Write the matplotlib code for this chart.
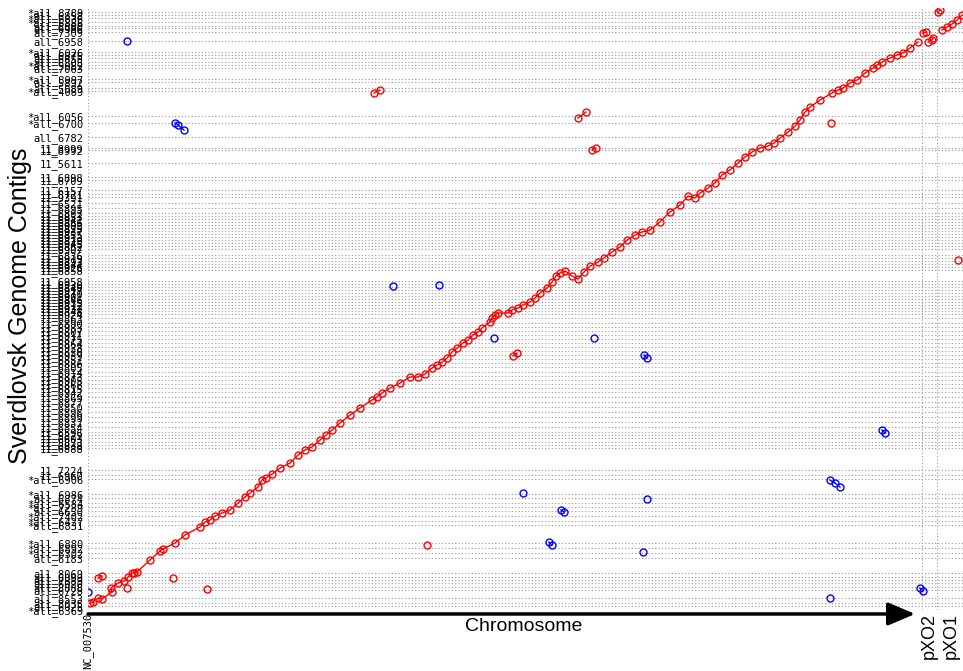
# -*- coding : utf-8 -*-
import matplotlib
matplotlib.use('Agg')
import numpy as np
import matplotlib.pyplot as plt

# 字体
plt.rcParams['font.family'] = ['Liberation Sans', 'DejaVu Sans']

# 参考序列 (kb)
REF_NAMES = ['NC_007530', 'pXO2', 'pXO1']
REF_LEN = [5228.663, 94.830, 181.677]

# Sverdlovsk contigs, bottom -> top (kb)
CONTIG_NAMES = [
    '*all_6369', 'all_6025', 'all_8035', 'all_8553', 'all_6728', 'all_8888', 'all_6020', 'all_7889',
    'all_6099', 'all_8069', 'all_6183', '*all_6302', '*all_6892', '*all_6880', '*all_6831', '*all_6427',
    '*all_7402', 'all_6650', '*all_7239', '*all_6584', 'all_6874', '*all_6986', '*all_6906', '11_6960',
    '11_7224', '11_6888', '11_6838', '11_5823', '11_6603', '11_5822', '11_6596', '11_6854',
    '11_6832', '11_6899', '11_6896', '11_6850', '11_6877', '11_6869', '11_6942', '11_6815',
    '11_6868', '11_6905', '11_6873', '11_6914', '11_6805', '11_6886', '11_6851', '11_6939',
    '11_6820', '11_6928', '11_6864', '11_6875', '11_6911', '11_6807', '11_6983', '11_6890',
    '11_6863', '11_6924', '11_6848', '11_6932', '11_6812', '11_6935', '11_6846', '11_6901',
    '11_6870', '11_6917', '11_6840', '11_6930', '11_6958', '11_6858', '11_6926', '11_6844',
    '11_6893', '11_6919', '11_6836', '11_6907', '11_6862', '11_6945', '11_6829', '11_6913',
    '11_6855', '11_6937', '11_6825', '11_6903', '11_6866', '11_6941', '11_6853', '11_6892',
    '11_6895', '11_6521', '11_9391', '11_8721', '11_6157', '11_6709', '11_6898', '11_5611',
    '11_8992', '11_8999', 'all_6782', '*all_6700', '*all_6056', '*all_4089', 'all_5089', 'all_5892',
    '*all_8997', 'all_7063', '*all_5082', 'all_6808', 'all_6855', 'all_6875', '*all_6026', 'all_6958',
    'all_7309', 'all_6986', 'all_6880', '*all_6886', '*all_6836', 'all_6858', '*all_8789',
]
CONTIG_LEN = [
    36, 27, 45, 72, 27, 36, 27, 27, 36, 135,
    45, 45, 45, 162, 36, 45, 45, 36, 36, 45,
    36, 135, 36, 45, 198, 27, 27, 36, 27, 27,
    45, 45, 45, 45, 45, 45, 45, 45, 36, 36,
    36, 36, 36, 45, 36, 36, 36, 36, 36, 36,
    36, 36, 36, 36, 36, 45, 36, 27, 27, 27,
    27, 27, 27, 27, 27, 27, 27, 27, 99, 27,
    27, 27, 27, 27, 54, 27, 27, 27, 27, 27,
    27, 27, 27, 27, 27, 27, 27, 45, 45, 54,
    27, 36, 90, 27, 126, 117, 18, 99, 126, 63,
    225, 27, 54, 27, 99, 27, 27, 36, 27, 27,
    99, 81, 36, 18, 36, 36, 27, 27, 36,
]

# 正向匹配 (红) : 主对角线
DIAG_X = [13, 31, 63, 88, 150, 144, 188, 226, 251, 276, 288, 307, 389, 451, 470, 545, 608, 702, 734, 765,
          796, 840, 890, 941, 984, 1016, 1066, 1091, 1116, 1154, 1204, 1267, 1317, 1361, 1404, 1455, 1492,
          1530, 1580, 1643, 1705, 1781, 1812, 1843, 1894, 1956, 2019, 2069, 2113, 2157, 2188, 2220, 2251,
          2282, 2314, 2351, 2383, 2414, 2445, 2470, 2521, 2533, 2552, 2571, 2633, 2658, 2696, 2727, 2771,
          2803, 2834, 2878, 2909, 2934, 2959, 2991, 3035, 3072, 3110, 3148, 3198, 3235, 3285, 3336, 3380,
          3430, 3474, 3524, 3586, 3649, 3712, 3762, 3806, 3837, 3887, 3931, 3975, 4025, 4076, 4119, 4163,
          4213, 4264, 4301, 4339, 4389, 4433, 4464, 4496, 4527, 4590, 4665, 4703, 4734, 4778, 4822, 4872,
          4922, 4947, 4978, 5028, 5072, 5110, 5154, 5204]
DIAG_Y = [63, 72, 108, 99, 162, 198, 243, 261, 297, 333, 333, 342, 450, 531, 549, 603, 675, 747, 792, 810,
          846, 873, 900, 963, 1017, 1053, 1107, 1170, 1188, 1224, 1278, 1323, 1395, 1440, 1467, 1530, 1575,
          1620, 1683, 1755, 1818, 1890, 1917, 1953, 1998, 2043, 2097, 2097, 2124, 2178, 2205, 2232, 2268,
          2322, 2358, 2403, 2430, 2475, 2502, 2538, 2592, 2628, 2655, 2673, 2673, 2700, 2718, 2745, 2772,
          2808, 2853, 2898, 2952, 3006, 3033, 3051, 3006, 2979, 3042, 3096, 3132, 3168, 3222, 3267, 3330,
          3375, 3402, 3420, 3492, 3582, 3645, 3726, 3708, 3753, 3798, 3843, 3915, 3960, 4023, 4077, 4122,
          4158, 4176, 4203, 4248, 4302, 4356, 4410, 4482, 4527, 4590, 4653, 4680, 4698, 4743, 4770, 4833,
          4878, 4905, 4932, 4968, 4995, 5013, 5058, 5112]

# 其他正向匹配 (质粒及零散)
RED_X = [[5235, 5254], [5267, 5292, 5298], [5330, 5342], [5354, 5386, 5417, 5449, 5480],
         [63, 88], [245], [533], [746], [2126], [2665, 2690], [1793, 1831], [3072, 3122],
         [3160, 3185], [4659], [5455]]
RED_Y = [[5193, 5202], [5112, 5130, 5148], [5382, 5400], [5220, 5247, 5274, 5310, 5355],
         [288, 306], [198], [288], [189], [585], [2286, 2313], [4653, 4680], [4428, 4482],
         [4140, 4158], [4383], [3150]]

# 反向匹配 (蓝)
BLUE_X = [[3], [245], [545, 564, 602], [1912], [2201], [2546], [3173], [3486, 3505], [2727],
          [2966, 2985], [3505], [2890, 2909], [3480], [4652, 4684, 4715], [4978, 4997], [4652],
          [5216, 5235]]
BLUE_Y = [[162], [5121], [4383, 4365, 4320], [2916], [2925], [2448], [2448], [2295, 2268], [1053],
          [900, 882], [999], [612, 585], [522], [1170, 1143, 1107], [1620, 1593], [108],
          [198, 171]]


def draw_matches(ax, xs, ys, color):
    for gx, gy in zip(xs, ys):
        ax.plot(gx, gy, '-o', color=color, lw=1, ms=5, mew=1, mfc='none', zorder=3)


def main():
    fig = plt.figure(figsize=(9.63, 6.71), dpi=100)
    ax = fig.add_axes([88 / 963, 61 / 671, 878 / 963, 602 / 671])

    ref_starts = np.concatenate([[0], np.cumsum(REF_LEN)[:-1]])
    total_x = sum(REF_LEN)
    starts = np.concatenate([[0], np.cumsum(CONTIG_LEN)[:-1]])
    total_y = sum(CONTIG_LEN)

    # 网格 (contig 边界)
    ax.hlines(starts, 0, total_x, colors='#9a9a9a', linestyles=(0, (1, 2)), lw=0.8, zorder=1)
    ax.vlines(ref_starts, 0, total_y, colors='#9a9a9a', linestyles=(0, (1, 2)), lw=0.8, zorder=1)

    ax.plot(DIAG_X, DIAG_Y, '-o', color='#ff0000', lw=1, ms=5, mew=1, mfc='none', zorder=3)
    draw_matches(ax, RED_X, RED_Y, '#ff0000')
    draw_matches(ax, BLUE_X, BLUE_Y, '#0000ff')

    ax.set_xlim(0, total_x)
    ax.set_ylim(0, total_y)
    for s in ax.spines.values():
        s.set_visible(False)

    # y 轴 contig 名称
    ax.set_yticks(starts)
    ax.set_yticklabels(CONTIG_NAMES, fontfamily='DejaVu Sans Mono', fontsize=7.5)
    ax.tick_params(axis='y', length=0, pad=3)

    # x 轴参考序列
    xt = [0, ref_starts[1] + REF_LEN[1] / 2, ref_starts[2] + REF_LEN[2] / 2]
    ax.set_xticks(xt)
    ax.set_xticklabels(REF_NAMES, rotation=90)
    ax.tick_params(axis='x', length=0, pad=2)
    labels = ax.get_xticklabels()
    labels[0].set_fontfamily('DejaVu Sans Mono')
    labels[0].set_fontsize(7.5)
    for lab in labels[1:]:
        lab.set_fontsize(13)

    # 箭头 + Chromosome
    ax.annotate('', xy=(0.942, -0.0066), xytext=(0.0, -0.0066), xycoords='axes fraction',
                annotation_clip=False,
                arrowprops=dict(arrowstyle='-|>,head_length=1.65,head_width=0.7', lw=2.5,
                                color='black', mutation_scale=10, shrinkA=0, shrinkB=0))
    ax.text(0.4966, -0.0266, 'Chromosome', transform=ax.transAxes, ha='center', va='center',
            fontsize=14)

    fig.text(20 / 963, 1 - 306 / 671, 'Sverdlovsk Genome Contigs', rotation=90,
             ha='center', va='center', fontsize=18)

    fig.savefig('out.png', dpi=100)


if __name__ == '__main__':
    main()
